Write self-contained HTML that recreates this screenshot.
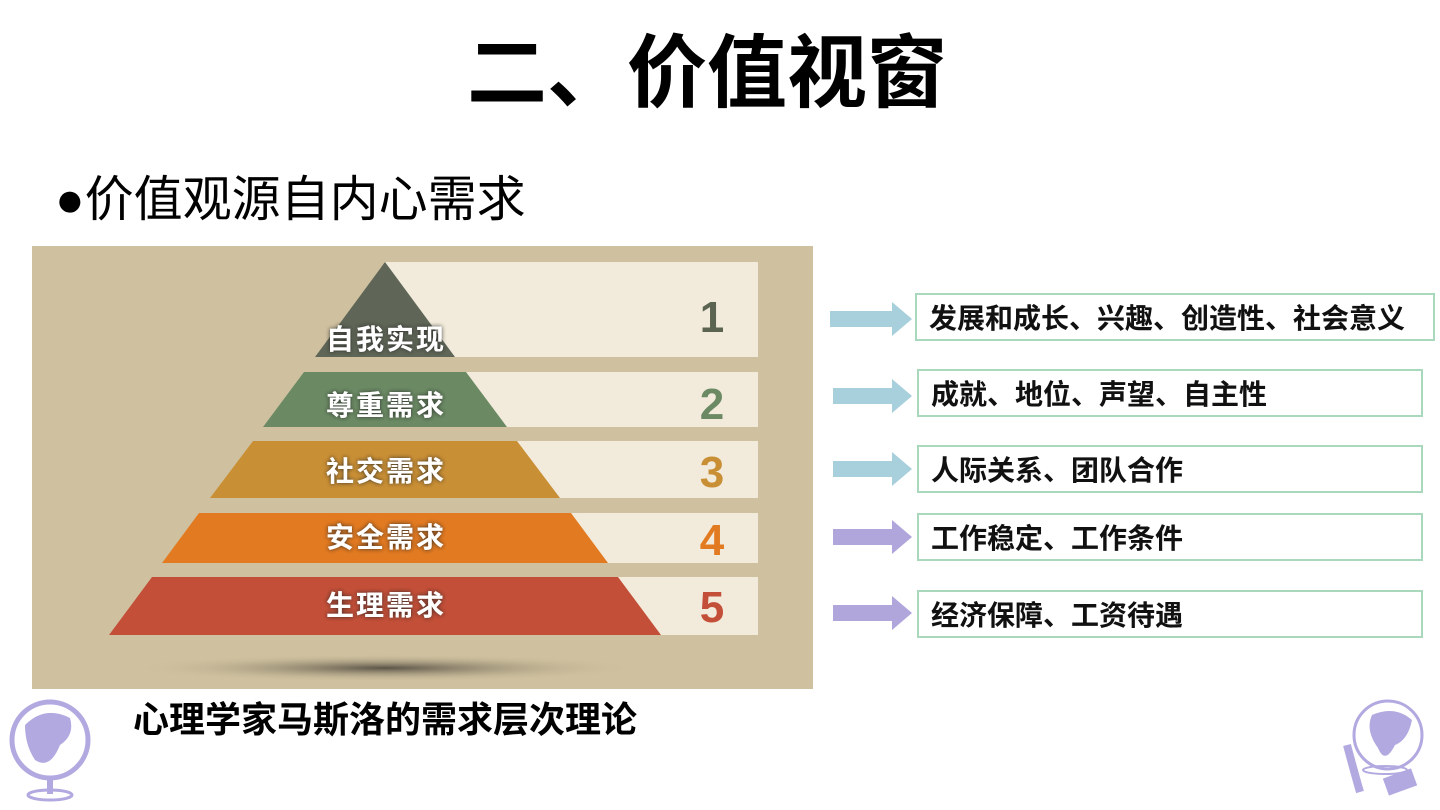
<!DOCTYPE html>
<html><head><meta charset="utf-8"><style>
body{margin:0;width:1440px;height:810px;background:#fff;position:relative;overflow:hidden;font-family:"Liberation Sans","Noto Sans CJK SC",sans-serif}
.t{position:absolute;white-space:nowrap}
.box{position:absolute;border:2px solid #aad8bd;box-sizing:border-box;font-weight:bold;font-size:28px;color:#111;padding-left:12px;display:flex;align-items:center}
</style></head><body>
<div class="t" style="left:0;width:1414px;text-align:center;top:24px;font-size:80px;font-weight:bold;line-height:100px;color:#000">二、价值视窗</div>
<div class="t" style="left:55px;top:170px;font-size:49px;line-height:60px;color:#000">●价值观源自内心需求</div>
<svg style="position:absolute;left:0;top:0" width="1440" height="810">
<defs>
<radialGradient id="sh" cx="50%" cy="50%" r="50%"><stop offset="0" stop-color="#5a5347"/><stop offset="1" stop-color="#cdbf9c" stop-opacity="0"/></radialGradient>
<filter id="ts"><feDropShadow dx="0" dy="0" stdDeviation="2" flood-color="#222" flood-opacity="0.9"/></filter>
</defs>
<rect x="32" y="246" width="781" height="443" fill="#cfc19f"/>
<ellipse cx="385" cy="668" rx="250" ry="14" fill="url(#sh)"/>
<rect x="385" y="262" width="373" height="95" fill="#f2ebdb"/>
<rect x="440" y="372" width="318" height="55" fill="#f2ebdb"/>
<rect x="500" y="441" width="258" height="57" fill="#f2ebdb"/>
<rect x="560" y="513" width="198" height="50" fill="#f2ebdb"/>
<rect x="610" y="577" width="148" height="58" fill="#f2ebdb"/>
<polygon points="385,262 455,357 315,357" fill="#5f6657"/>
<polygon points="304,372 466,372 507,427 263,427" fill="#6b8a64"/>
<polygon points="253,441 517,441 560,498 210,498" fill="#c98f35"/>
<polygon points="199,513 571,513 608,563 162,563" fill="#e27a21"/>
<polygon points="152,577 618,577 661,635 109,635" fill="#c34f38"/>
<g font-size="28" font-weight="bold" fill="#fff" text-anchor="middle" letter-spacing="2" filter="url(#ts)" font-family="'Liberation Sans','Noto Sans CJK SC',sans-serif">
<text x="386" y="349">自我实现</text>
<text x="386" y="415">尊重需求</text>
<text x="386" y="481">社交需求</text>
<text x="386" y="547">安全需求</text>
<text x="386" y="615">生理需求</text>
</g>
<g font-size="44" font-weight="bold" text-anchor="middle" font-family="'Liberation Sans',sans-serif">
<text x="712" y="332" fill="#5b6450">1</text>
<text x="712" y="419" fill="#6b8a64">2</text>
<text x="712" y="487" fill="#c98f35">3</text>
<text x="712" y="555" fill="#e27a21">4</text>
<text x="712" y="622" fill="#c34f38">5</text>
</g>
<g>
<polygon points="830,311 892,311 892,302 912,319 892,336 892,327 830,327" fill="#a7cfdc"/>
<polygon points="833,388 892,388 892,379 912,396 892,413 892,404 833,404" fill="#a7cfdc"/>
<polygon points="833,461 892,461 892,452 912,469 892,486 892,477 833,477" fill="#a7cfdc"/>
<polygon points="833,529 892,529 892,520 912,537 892,554 892,545 833,545" fill="#b0a6dc"/>
<polygon points="833,605 892,605 892,596 912,613 892,630 892,621 833,621" fill="#b0a6dc"/>
</g>
<g fill="#b2a9e0" stroke="#b2a9e0">
<circle cx="50" cy="740" r="38" fill="none" stroke-width="5"/>
<path d="M25,725 Q45,705 70,718 Q75,735 60,745 Q50,770 35,760 Q25,745 25,725Z" stroke="none"/>
<rect x="47" y="778" width="6" height="16" stroke="none"/>
<ellipse cx="50" cy="795" rx="22" ry="5" fill="none" stroke-width="3"/>
<circle cx="1388" cy="735" r="34" fill="none" stroke-width="3"/>
<path d="M1372,715 Q1395,705 1412,720 Q1408,740 1395,745 Q1385,765 1378,748 Q1365,730 1372,715Z" stroke="none"/>
<path d="M1347,745 Q1355,775 1360,792" fill="none" stroke-width="8"/>
<rect x="1385" y="773" width="30" height="18" transform="rotate(-20 1400 782)" stroke="none"/>
<ellipse cx="1385" cy="770" rx="22" ry="4" fill="none" stroke-width="2"/>
</g>
</svg>
<div class="box" style="left:915px;top:293px;width:520px;height:48px">发展和成长、兴趣、创造性、社会意义</div>
<div class="box" style="left:917px;top:369px;width:506px;height:48px">成就、地位、声望、自主性</div>
<div class="box" style="left:917px;top:445px;width:506px;height:48px">人际关系、团队合作</div>
<div class="box" style="left:917px;top:513px;width:506px;height:48px">工作稳定、工作条件</div>
<div class="box" style="left:917px;top:590px;width:506px;height:48px">经济保障、工资待遇</div>
<div class="t" style="left:133px;top:698px;font-size:36px;font-weight:bold;line-height:44px;color:#000">心理学家马斯洛的需求层次理论</div>
</body></html>
